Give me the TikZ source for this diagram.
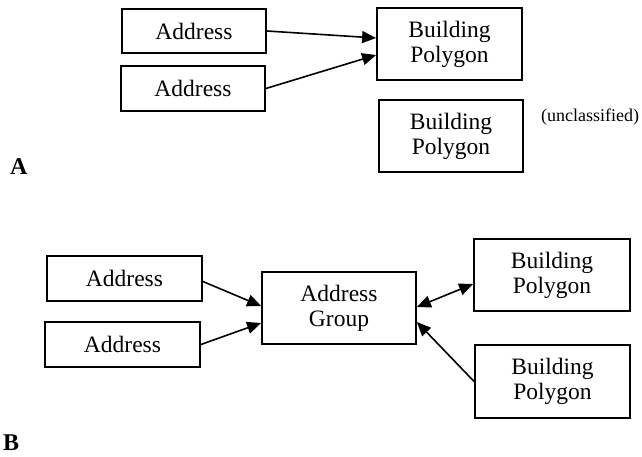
\documentclass[tikz,border=0pt]{standalone}
\usepackage{fontspec}
\setmainfont{Liberation Serif}
\usetikzlibrary{arrows.meta}
\begin{document}
\begin{tikzpicture}[x=1pt,y=-1pt,
  box/.style={draw,line width=1.8pt,inner sep=0pt,align=center,
    font=\fontsize{23.5}{25}\selectfont},
  conn/.style={line width=1.6pt,-{Triangle[length=14pt,width=12pt]}},
  biconn/.style={line width=1.6pt,{Triangle[length=14pt,width=12pt]}-{Triangle[length=14pt,width=12pt]}},
  lbl/.style={font=\fontsize{24}{26}\selectfont\bfseries,inner sep=0pt,anchor=base west}]
\useasboundingbox (0,0) rectangle (642,457);
% Part A
\node[box,minimum width=144pt,minimum height=44pt] (a1) at (194,31) {Address};
\node[box,minimum width=144pt,minimum height=45pt] (a2) at (193,88.5) {Address};
\node[box,minimum width=145pt,minimum height=72pt] (bp1) at (449.5,44) {Building\\Polygon};
\node[box,minimum width=144pt,minimum height=72pt] (bp2) at (451,136) {Building\\Polygon};
\node[font=\fontsize{18}{20}\selectfont,inner sep=0pt] (uncl) at (590,117) {(unclassified)};
\node[lbl] (labA) at (10,175) {A};
\draw[conn] (a1.east) -- ([yshift=6pt]bp1.west);
\draw[conn] (a2.east) -- ([yshift=-11pt]bp1.west);
% Part B
\node[box,minimum width=155pt,minimum height=45pt] (b1) at (124.5,278.5) {Address};
\node[box,minimum width=155pt,minimum height=45pt] (b2) at (122.5,344.5) {Address};
\node[box,minimum width=154pt,minimum height=72pt] (ag) at (339,308) {Address\\Group};
\node[box,minimum width=156pt,minimum height=72pt] (bp3) at (552,275) {Building\\Polygon};
\node[box,minimum width=155pt,minimum height=73pt] (bp4) at (552.5,381.5) {Building\\Polygon};
\node[lbl] (labB) at (3,450) {B};
\draw[conn] ([yshift=-3pt]b1.east) -- ([yshift=2pt]ag.west);
\draw[conn] (b2.east) -- ([yshift=-15pt]ag.west);
\draw[biconn] ([yshift=1pt]ag.east) -- ([yshift=-9pt]bp3.west);
\draw[conn] (bp4.west) -- ([yshift=-14pt]ag.east);
\end{tikzpicture}
\end{document}
